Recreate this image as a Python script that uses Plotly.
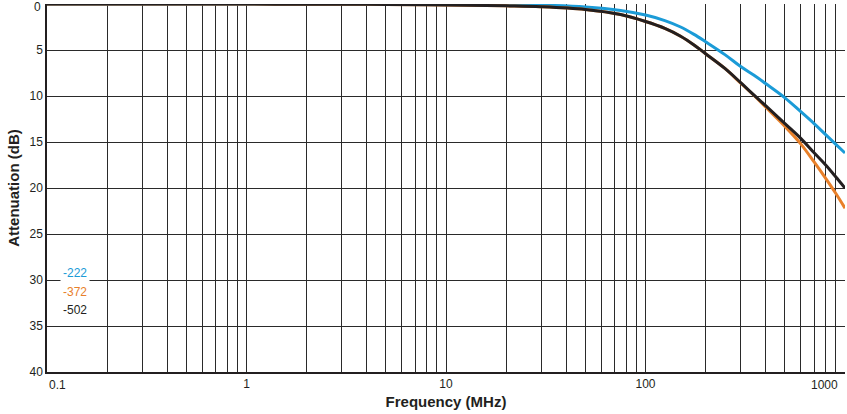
import plotly.graph_objects as go

# Frequency (MHz)
freq = [0.1, 0.3, 1, 3, 5, 10, 20, 30, 50, 75, 100, 125, 150, 175, 200, 250, 300, 350, 400, 500, 600, 700, 800, 900, 1000]

# Attenuation (dB)
att_222 = [0, 0, 0.0, 0.01, 0.02, 0.04, 0.08, 0.12, 0.32, 0.7, 1.2, 1.8, 2.5, 3.3, 4.1, 5.5, 6.8, 7.75, 8.65, 10.2, 11.7, 13.0, 14.2, 15.25, 16.2]
att_372 = [0, 0, 0.01, 0.03, 0.05, 0.1, 0.2, 0.3, 0.6, 1.15, 1.9, 2.65, 3.5, 4.45, 5.4, 7.0, 8.6, 9.95, 11.2, 13.3, 15.2, 17.17, 18.95, 20.6, 22.2]
att_502 = [0, 0, 0.01, 0.03, 0.05, 0.1, 0.2, 0.3, 0.6, 1.15, 1.9, 2.65, 3.5, 4.45, 5.4, 7.0, 8.55, 9.9, 11.05, 13.0, 14.6, 16.17, 17.5, 18.8, 20.0]

names = ["-222", "-372", "-502"]
colors = ["#1b9bd7", "#e8802a", "#231f20"]
series = [att_222, att_372, att_502]

x_grid = [m * d for d in [0.1, 1, 10, 100] for m in range(1, 10)] + [1000]
x_text = ["1" if v == 1 else "10" if v == 10 else "100" if v == 100 else "" for v in x_grid]
y_ticks = [0, 5, 10, 15, 20, 25, 30, 35, 40]
y_text = ["" if v == 0 else str(v) for v in y_ticks]

fig = go.Figure()
for i in [0, 1, 2]:
    fig.add_trace(go.Scatter(x=freq, y=series[i], mode="lines", name=names[i],
                             line=dict(color=colors[i], width=3, shape="spline", smoothing=1.0),
                             showlegend=False))

grid_col = "#2a2a2a"
fig.update_layout(
    width=847, height=414,
    margin=dict(l=47, r=2, t=4, b=42),
    paper_bgcolor="white", plot_bgcolor="white",
    font=dict(family="Liberation Sans, Arial, sans-serif", size=12, color="#231f20"),
    xaxis=dict(type="log", range=[-1, 3.0], tickvals=x_grid, ticktext=x_text,
               showgrid=True, gridcolor=grid_col, gridwidth=1,
               showline=True, linecolor="#231f20", linewidth=1.5,
               ticks="", zeroline=False,
               title=dict(text="<b>Frequency (MHz)</b>", font=dict(size=15), standoff=6)),
    yaxis=dict(range=[40, 0], tickvals=y_ticks, ticktext=y_text, showgrid=True, gridcolor=grid_col, gridwidth=1,
               showline=True, linecolor="#231f20", linewidth=1.5, ticks="", zeroline=False,
               title=dict(text="<b>Attenuation (dB)</b>", font=dict(size=15), standoff=6)),
)

# edge tick labels
fig.add_annotation(text="0", xref="paper", yref="y", x=0, y=0.3, xanchor="right", yanchor="middle",
                   xshift=-4, showarrow=False, font=dict(size=12))
fig.add_annotation(text="0.1", xref="paper", yref="paper", x=0, y=0, xanchor="left", yanchor="top",
                   yshift=-4, showarrow=False, font=dict(size=12))
fig.add_annotation(text="1000", xref="paper", yref="paper", x=0.994, y=0, xanchor="right", yanchor="top",
                   yshift=-4, showarrow=False, font=dict(size=12))

# legend labels
leg_y = [29.2, 31.3, 33.3]
for i in range(3):
    fig.add_annotation(text=names[i], xref="paper", yref="y", x=0.0163, y=leg_y[i],
                       xanchor="left", yanchor="middle", showarrow=False,
                       font=dict(size=12, color=colors[i]), bgcolor="white", borderpad=2)

fig.write_html("out.html")
